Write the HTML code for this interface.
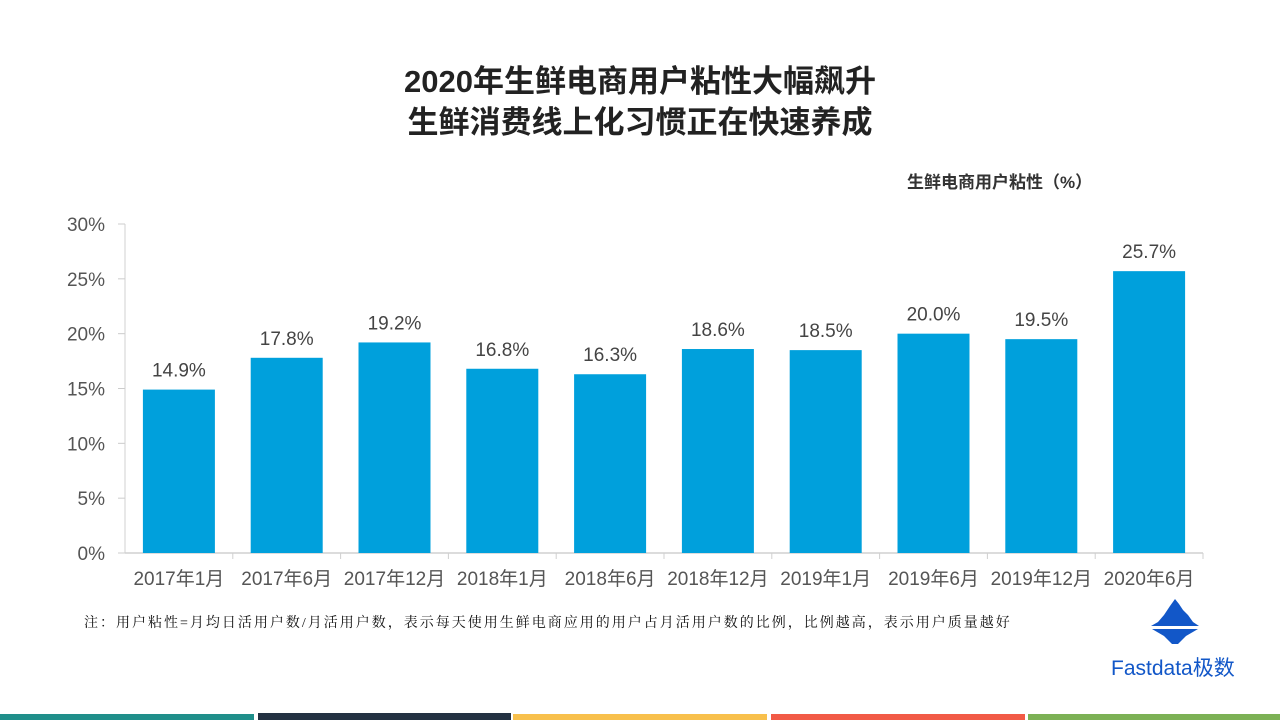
<!DOCTYPE html>
<html><head><meta charset="utf-8"><style>
body{margin:0;width:1280px;height:720px;background:#fff;position:relative;overflow:hidden;font-family:"Liberation Sans","Noto Sans CJK SC",sans-serif}
.t{position:absolute;left:0;width:1280px;text-align:center;font-weight:bold;font-size:31px;color:#222}
.s{position:absolute}
</style></head><body>
<div class="t" style="top:56px">2020年生鲜电商用户粘性大幅飙升</div>
<div class="t" style="top:97px">生鲜消费线上化习惯正在快速养成</div>
<div class="s" style="left:907px;top:168px;font-size:17px;font-weight:bold;color:#333">生鲜电商用户粘性（%）</div>
<svg id="chart" width="1280" height="600" style="position:absolute;left:0;top:0"></svg>
<div class="s" style="left:84px;top:612px;font-size:14px;color:#111;font-family:'Liberation Serif','Noto Serif CJK SC',serif;letter-spacing:2px">注：用户粘性=月均日活用户数/月活用户数，表示每天使用生鲜电商应用的用户占月活用户数的比例，比例越高，表示用户质量越好</div>
<svg class="s" style="left:1148px;top:598px" width="54" height="48" viewBox="0 0 54 48"><path d="M27 1 L31 6 L35 12 L40 17 L45 24 L51 28 L3 28 L10 24 L16 17 L22 8Z" fill="#1257c8"/><path d="M4 31 L50 31 L38 38 L30 46 L24 46 L16 38Z" fill="#1257c8"/></svg>
<div class="s" style="left:1111px;top:652px;font-size:21px;color:#1257c8">Fastdata极数</div>
<div class="s" style="left:0;top:714px;width:254px;height:6px;background:#1f8f8a"></div>
<div class="s" style="left:258px;top:713px;width:253px;height:7px;background:#243242"></div>
<div class="s" style="left:513px;top:714px;width:254px;height:6px;background:#f8c04c"></div>
<div class="s" style="left:771px;top:714px;width:254px;height:6px;background:#f25a46"></div>
<div class="s" style="left:1028px;top:714px;width:252px;height:6px;background:#7cb155"></div>
<script>
const categories=["2017年1月","2017年6月","2017年12月","2018年1月","2018年6月","2018年12月","2019年1月","2019年6月","2019年12月","2020年6月"];
const values=[14.9,17.8,19.2,16.8,16.3,18.6,18.5,20.0,19.5,25.7];
const yTicks=[0,5,10,15,20,25,30];
const svg=document.getElementById('chart');const NS='http://www.w3.org/2000/svg';
const x0=125,x1=1203,y0=553,y1=224,yMax=30;
const bw=(x1-x0)/categories.length;
const y=v=>y0-(v/yMax)*(y0-y1);
function mk(t,a,txt){const e=document.createElementNS(NS,t);for(const k in a)e.setAttribute(k,a[k]);if(txt!==undefined)e.textContent=txt;svg.appendChild(e);return e;}
yTicks.forEach(t=>{const e=mk('text',{x:105,y:y(t)+7,'text-anchor':'end','font-size':19,fill:'#555'},t+'%');


const k=mk('line',{x1:118,x2:x0,y1:y(t),y2:y(t),stroke:'#ccc'});

});
const ax=mk('line',{x1:x0,x2:x1,y1:y0,y2:y0,stroke:'#d0d0d0','stroke-width':1.5});


const ay=mk('line',{x1:x0,x2:x0,y1:y1,y2:y0,stroke:'#d0d0d0','stroke-width':1});


categories.forEach((c,i)=>{const cx=x0+bw*(i+0.5);
const tk=mk('line',{x1:x0+bw*(i+1),x2:x0+bw*(i+1),y1:y0,y2:y0+6,stroke:'#d0d0d0'});


const b=mk('rect',{x:cx-36,y:y(values[i]),width:72,height:y0-y(values[i]),fill:'#00a0dc'});


const l=mk('text',{x:cx,y:y(values[i])-13,'text-anchor':'middle','font-size':19,fill:'#444'},values[i].toFixed(1)+'%');


const xl=mk('text',{x:cx,y:585,'text-anchor':'middle','font-size':19,fill:'#555'},c);

});
</script>
</body></html>
